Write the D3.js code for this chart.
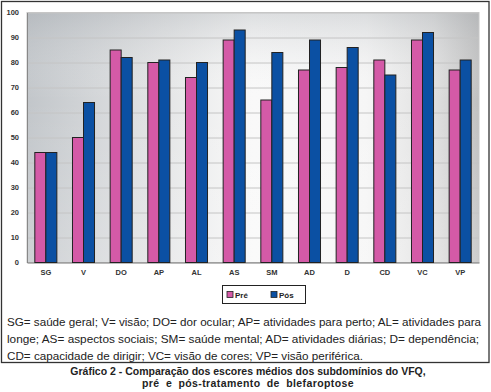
<!DOCTYPE html>
<html><head><meta charset="utf-8">
<script src="https://cdn.jsdelivr.net/npm/d3@7"></script>
<style>
html,body{margin:0;padding:0;background:#fff;}
svg{display:block;font-family:"Liberation Sans",Arial,Helvetica,sans-serif;}
</style></head>
<body>
<svg id="c" width="491" height="392"></svg>
<script>
const categories = ["SG","V","DO","AP","AL","AS","SM","AD","D","CD","VC","VP"];
const seriesNames = ["Pré","Pós"];
const pre = [44,50,85,80,74,89,65,77,78,81,89,77];
const pos = [44,64,82,81,80,93,84,89,86,75,92,81];
const yTicks = [0,10,20,30,40,50,60,70,80,90,100];
const colors = ["#d45aa7","#0b50a3"];
const captionLines = [
 "SG= saúde geral; V= visão; DO= dor ocular; AP= atividades para perto; AL= atividades para",
 "longe; AS= aspectos sociais; SM= saúde mental; AD= atividades diárias; D= dependência;",
 "CD= capacidade de dirigir; VC= visão de cores; VP= visão periférica."
];
const titleLines = [
 "Gráfico 2 - Comparação dos escores médios dos subdomínios do VFQ,",
 "pré e pós-tratamento de blefaroptose"
];

const svg = d3.select("#c");
const L=27, R=479, T=12.5, B=262.5;

const defs = svg.append("defs");
const gh = defs.append("linearGradient").attr("id","gh").attr("x1","0").attr("x2","1").attr("y1","0").attr("y2","0");
[[0,"#c2c6ca"],[0.3,"#e4e5e6"],[0.5,"#f9f9f9"],[0.75,"#f6f6f6"],[0.9,"#e0e0e0"],[1,"#c0c0c0"]].forEach(s=>gh.append("stop").attr("offset",s[0]).attr("stop-color",s[1]));
const gv = defs.append("linearGradient").attr("id","gv").attr("x1","0").attr("x2","0").attr("y1","0").attr("y2","1");
gv.append("stop").attr("offset",0).attr("stop-color","#9aa0a6").attr("stop-opacity",0.3);
gv.append("stop").attr("offset",0.35).attr("stop-color","#ffffff").attr("stop-opacity",0);
gv.append("stop").attr("offset",1).attr("stop-color","#ffffff").attr("stop-opacity",0.2);

// outer border
svg.append("rect").attr("x",1.5).attr("y",1.5).attr("width",487.5).attr("height",361).attr("fill","none").attr("stroke","#333").attr("stroke-width",1.3);

// plot background
svg.append("rect").attr("x",L).attr("y",T).attr("width",R-L).attr("height",B-T).attr("fill","url(#gh)");
svg.append("rect").attr("x",L).attr("y",T).attr("width",R-L).attr("height",B-T).attr("fill","url(#gv)");
svg.append("rect").attr("x",L).attr("y",T).attr("width",R-L).attr("height",B-T).attr("fill","none").attr("stroke","#c8c8c8").attr("stroke-width",1);

const y = d3.scaleLinear().domain([0,100]).range([B,T]);
const x0 = d3.scaleBand().domain(categories).range([L,R]).paddingInner(0).paddingOuter(0);
const x1 = d3.scaleBand().domain(seriesNames).range([0,x0.bandwidth()]).paddingInner(0).paddingOuter(0.71);

// gridlines
svg.append("g").selectAll("line").data(yTicks.filter(d=>d>0)).join("line")
 .attr("x1",L).attr("x2",R).attr("y1",d=>y(d)+0.5).attr("y2",d=>y(d)+0.5)
 .attr("stroke","#c4c4c4").attr("stroke-width",1);

// y axis
const yAxis = d3.axisLeft(y).tickValues(yTicks).tickSize(0).tickPadding(8);
const ga = svg.append("g").attr("transform",`translate(${L},0)`).call(yAxis);
ga.select(".domain").attr("stroke","#888");
ga.selectAll("text").attr("font-size","7.5px").attr("font-weight","bold").attr("fill","#333");

// x axis
const xAxis = d3.axisBottom(x0).tickSize(0).tickPadding(7);
const gx = svg.append("g").attr("transform",`translate(0,${B})`).call(xAxis);
gx.select(".domain").attr("stroke","#777");
gx.selectAll("text").attr("font-size","7.5px").attr("font-weight","bold").attr("fill","#333");

// bars
const data = categories.map((c,i)=>({c, vals:[pre[i],pos[i]]}));
const groups = svg.append("g").selectAll("g").data(data).join("g").attr("transform",d=>`translate(${x0(d.c)},0)`);
groups.selectAll("rect").data(d=>d.vals.map((v,j)=>({name:seriesNames[j],v,j}))).join("rect")
 .attr("x",d=>x1(d.name)).attr("y",d=>y(d.v)).attr("width",x1.bandwidth()).attr("height",d=>B-y(d.v))
 .attr("fill",d=>colors[d.j]).attr("stroke","#222").attr("stroke-width",1);

// legend
const lg = svg.append("g");
lg.append("rect").attr("x",222.5).attr("y",285.5).attr("width",83).attr("height",18).attr("fill","#fff").attr("stroke","#222").attr("stroke-width",1);
const lx=[227,271];
seriesNames.forEach((n,i)=>{
  lg.append("rect").attr("x",lx[i]).attr("y",291.5).attr("width",6).attr("height",6).attr("fill",colors[i]).attr("stroke","#222").attr("stroke-width",0.8);
  lg.append("text").attr("x",lx[i]+8).attr("y",298).attr("font-size","8px").attr("font-weight","bold").attr("fill","#222").text(n);
});

// caption
svg.append("g").selectAll("text").data(captionLines).join("text")
 .attr("x",7).attr("y",(d,i)=>326+i*17).attr("font-size","11px").attr("fill","#222")
 .attr("textLength",(d,i)=>[474,472,356][i]).attr("lengthAdjust","spacingAndGlyphs").text(d=>d);

// title
const tt = svg.append("g").selectAll("text").data(titleLines).join("text")
 .attr("x",248).attr("y",(d,i)=>375+i*12).attr("text-anchor","middle").attr("font-size","10.5px").attr("font-weight","bold").attr("fill","#222")
 .text(d=>d);
tt.filter((d,i)=>i===1).attr("word-spacing","3px").attr("letter-spacing","0.4px");
</script>
</body></html>
